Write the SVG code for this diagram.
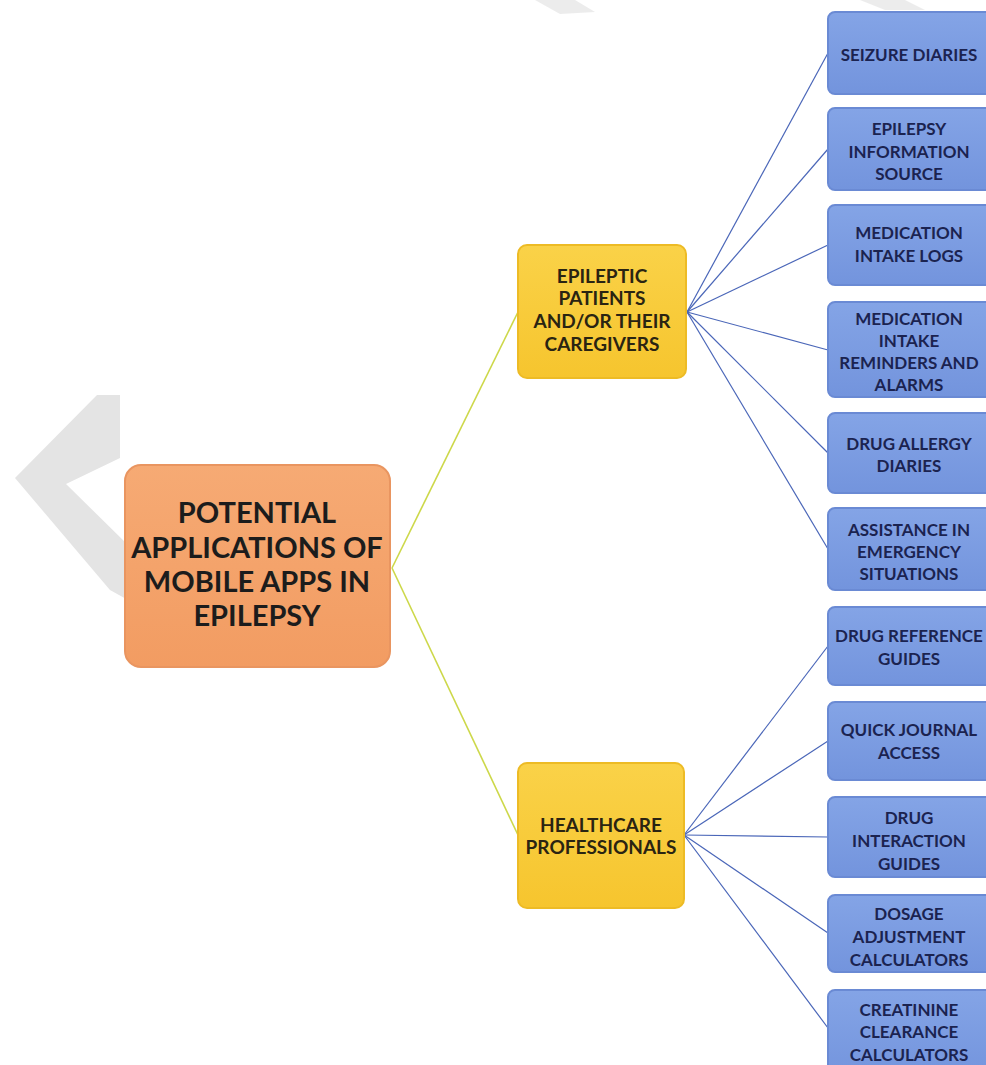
<svg xmlns="http://www.w3.org/2000/svg" width="986" height="1065" viewBox="0 0 986 1065">
<defs>
<linearGradient id="gRoot" x1="0" y1="0" x2="0" y2="1"><stop offset="0" stop-color="#F6AA74"/><stop offset="1" stop-color="#F29C62"/></linearGradient>
<linearGradient id="gYel" x1="0" y1="0" x2="0" y2="1"><stop offset="0" stop-color="#FAD248"/><stop offset="1" stop-color="#F6C52E"/></linearGradient>
<linearGradient id="gBlue" x1="0" y1="0" x2="0" y2="1"><stop offset="0" stop-color="#84A4E6"/><stop offset="1" stop-color="#7394DD"/></linearGradient>
<style>
.root rect{fill:url(#gRoot);stroke:#E99560;stroke-width:2}
.yel rect{fill:url(#gYel);stroke:#EDBB25;stroke-width:2}
.blue rect{fill:url(#gBlue);stroke:#6A8AD4;stroke-width:2}
text{font-family:Lato,"Liberation Sans",sans-serif;font-weight:700;text-anchor:middle}
.root text{font-size:29px;fill:#1C1C1C}
.yel text{font-size:19px;fill:#2A2412}
.blue text{font-size:17px;fill:#1B2350}
.cy{stroke:#CDD84A;stroke-width:1.6;fill:none}
.cb{stroke:#4A66B8;stroke-width:1.2;fill:none}
.wm{fill:#E4E4E4}
</style>
</defs>
<rect width="986" height="1065" fill="#FFFFFF"/>
<g id="watermark">
<polygon class="wm" points="97,395 120,395 120,458 66,484 128,545 128,600 110,590 15,478"/>
<polygon class="wm" opacity="0.7" points="535,0 575,0 595,12 560,14"/>
<polygon class="wm" opacity="0.7" points="860,0 905,0 925,10 885,10"/>
</g>
<g id="connectors">
<path class="cy" d="M392,568 L518,312"/>
<path class="cy" d="M392,568 L518,835"/>
<path class="cb" d="M687,312 L828,53"/>
<path class="cb" d="M687,312 L828,149"/>
<path class="cb" d="M687,312 L828,245"/>
<path class="cb" d="M687,312 L828,350"/>
<path class="cb" d="M687,312 L828,453"/>
<path class="cb" d="M687,312 L828,549"/>
<path class="cb" d="M684,835 L828,646"/>
<path class="cb" d="M684,835 L828,741"/>
<path class="cb" d="M684,835 L828,837"/>
<path class="cb" d="M684,835 L828,933"/>
<path class="cb" d="M684,835 L828,1028"/>
</g>
<g id="root" class="root">
<rect x="125" y="465" width="265" height="202" rx="16"/>
<text x="257" y="523">POTENTIAL</text>
<text x="257" y="558">APPLICATIONS OF</text>
<text x="257" y="592">MOBILE APPS IN</text>
<text x="257" y="626">EPILEPSY</text>
</g>
<g id="patients" class="yel">
<rect x="518" y="245" width="168" height="133" rx="9"/>
<text x="602" y="283">EPILEPTIC</text>
<text x="602" y="305">PATIENTS</text>
<text x="602" y="328">AND/OR THEIR</text>
<text x="602" y="351">CAREGIVERS</text>
</g>
<g id="professionals" class="yel">
<rect x="518" y="763" width="166" height="145" rx="9"/>
<text x="601" y="832">HEALTHCARE</text>
<text x="601" y="854">PROFESSIONALS</text>
</g>
<g id="n1" class="blue"><rect x="828" y="12" width="170" height="82" rx="7"/><text x="909" y="61">SEIZURE DIARIES</text></g>
<g id="n2" class="blue"><rect x="828" y="108" width="170" height="82" rx="7"/><text x="909" y="135">EPILEPSY</text><text x="909" y="158">INFORMATION</text><text x="909" y="180">SOURCE</text></g>
<g id="n3" class="blue"><rect x="828" y="205" width="170" height="80" rx="7"/><text x="909" y="239">MEDICATION</text><text x="909" y="262">INTAKE LOGS</text></g>
<g id="n4" class="blue"><rect x="828" y="302" width="170" height="95" rx="7"/><text x="909" y="325">MEDICATION</text><text x="909" y="347">INTAKE</text><text x="909" y="369">REMINDERS AND</text><text x="909" y="391">ALARMS</text></g>
<g id="n5" class="blue"><rect x="828" y="413" width="170" height="80" rx="7"/><text x="909" y="450">DRUG ALLERGY</text><text x="909" y="472">DIARIES</text></g>
<g id="n6" class="blue"><rect x="828" y="508" width="170" height="82" rx="7"/><text x="909" y="536">ASSISTANCE IN</text><text x="909" y="558">EMERGENCY</text><text x="909" y="580">SITUATIONS</text></g>
<g id="n7" class="blue"><rect x="828" y="607" width="170" height="78" rx="7"/><text x="909" y="642">DRUG REFERENCE</text><text x="909" y="665">GUIDES</text></g>
<g id="n8" class="blue"><rect x="828" y="702" width="170" height="78" rx="7"/><text x="909" y="736">QUICK JOURNAL</text><text x="909" y="759">ACCESS</text></g>
<g id="n9" class="blue"><rect x="828" y="797" width="170" height="80" rx="7"/><text x="909" y="824">DRUG</text><text x="909" y="847">INTERACTION</text><text x="909" y="870">GUIDES</text></g>
<g id="n10" class="blue"><rect x="828" y="895" width="170" height="77" rx="7"/><text x="909" y="920">DOSAGE</text><text x="909" y="943">ADJUSTMENT</text><text x="909" y="966">CALCULATORS</text></g>
<g id="n11" class="blue"><rect x="828" y="990" width="170" height="90" rx="7"/><text x="909" y="1016">CREATININE</text><text x="909" y="1038">CLEARANCE</text><text x="909" y="1061">CALCULATORS</text></g>
</svg>
